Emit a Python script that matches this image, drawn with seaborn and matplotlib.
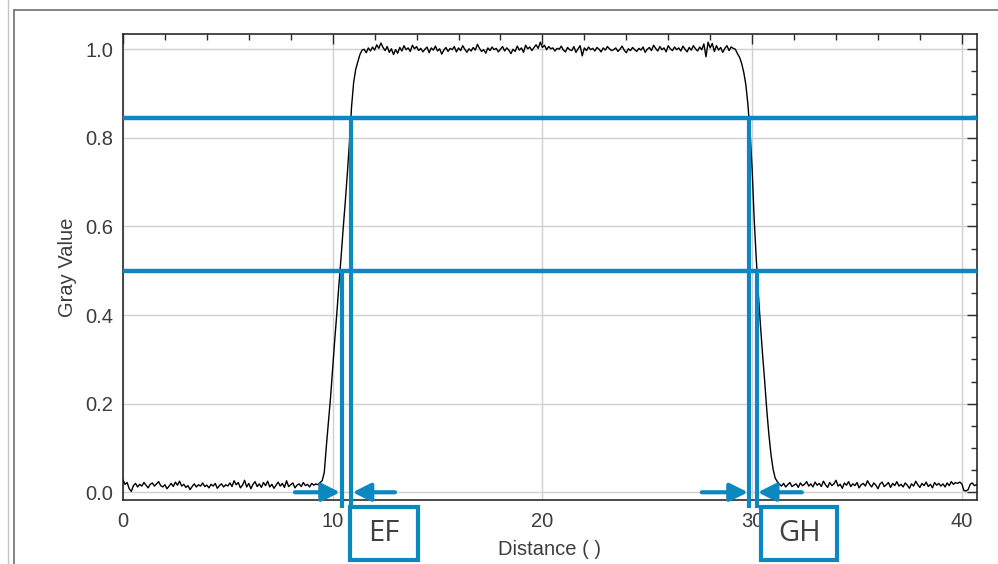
import matplotlib.pyplot as plt
import numpy as np
import pandas as pd
import seaborn as sns
from matplotlib.lines import Line2D
from matplotlib.patches import Rectangle
from matplotlib.ticker import MultipleLocator

# ──────────────────────────────────────────────
# Data (gray values in thousandths)
# ──────────────────────────────────────────────
STEP = 0.1  # sampling step of the profile

baseline_left = [
    28, 18, 22, 8, 2, 15, 20, 12, 18, 14,
    22, 16, 10, 18, 21, 14, 19, 24, 15, 12,
    17, 8, 14, 20, 13, 23, 16, 25, 14, 18,
    11, 15, 6, 13, 19, 12, 17, 14, 21, 13,
    16, 10, 18, 14, 20, 9, 15, 19, 12, 17,
    14, 21, 13, 26, 17, 22, 10, 16, 27, 12,
    20, 8, 18, 24, 13, 19, 11, 22, 15, 25,
    12, 18, 9, 16, 23, 14, 20, 11, 26, 13,
    17, 21, 10, 16, 19, 13, 22, 15, 18, 12,
    20, 16, 19, 17, 22,
]
edge_rise = [
    26, 45, 105, 160, 215, 280, 345, 405, 470, 530,
    595, 655, 720, 790, 870, 925, 955, 972, 988, 998,
]
plateau = [
    1000, 992, 1003, 996, 1005, 998, 1010, 1002, 1014, 1004,
    997, 1006, 993, 1001, 988, 999, 991, 1004, 996, 1008,
    999, 1003, 995, 1009, 1001, 1006, 997, 1002, 994, 1000,
    1005, 992, 1003, 998, 1007, 996, 1001, 989, 998, 1004,
    995, 1002, 999, 1006, 994, 1003, 997, 1008, 1000, 993,
    1001, 996, 1004, 998, 1011, 1002, 995, 999, 991, 1003,
    997, 1005, 999, 1002, 994, 1000, 1006, 996, 1003, 998,
    990, 1000, 995, 1007, 998, 1003, 993, 1009, 1001, 1005,
    997, 1004, 1010, 1002, 1016, 1004, 1009, 999, 1006, 1001,
    1003, 996, 1002, 1000, 1007, 998, 994, 1004, 999, 997,
    1006, 993, 1001, 1008, 985, 1003, 997, 1005, 999, 1002,
    996, 1004, 1000, 994, 1003, 998, 1006, 1001, 997, 999,
    1003, 995, 1000, 1007, 998, 992, 1001, 997, 1004, 999,
    995, 1002, 998, 1005, 993, 1000, 1004, 997, 1009, 1002,
    996, 1006, 999, 1003, 994, 1008, 1001, 997, 1005, 999,
    1003, 996, 1007, 1000, 994, 1004, 998, 1008, 1001, 996,
    1005, 999, 1012, 983, 1016, 1003, 1013, 995, 1008, 998,
    1004, 993, 1002, 1008, 997, 1005, 1002,
]
edge_fall = [
    1000, 990, 982, 968, 948, 920, 875, 815, 730, 615,
    525, 445, 375, 310, 250, 185, 130, 85, 52, 32, 24,
]
baseline_right = [
    18, 14, 20, 12, 17, 22, 13, 16, 19, 11,
    21, 15, 18, 24, 14, 19, 12, 23, 16, 20,
    13, 25, 17, 11, 22, 15, 19, 27, 14, 18,
    9, 21, 16, 24, 13, 19, 15, 22, 10, 17,
    20, 14, 26, 18, 12, 21, 16, 8, 19, 23,
    13, 17, 22, 11, 20, 15, 24, 14, 18, 12,
    21, 16, 9, 19, 14, 25, 17, 11, 20, 15,
    23, 13, 18, 10, 22, 16, 20, 14, 19, 12,
    21, 15, 24, 18, 22, 20, 23, 19, 4, 3,
    6, 18, 21, 15, 17,
]

# threshold levels and edge positions
levels = [0.845, 0.5]
ef_edges = [10.44, 10.87]   # crossing at 0.5 / at upper level
gh_edges = [29.87, 30.22]   # crossing at upper level / at 0.5
ef_arrows = [(8.2, 10.35), (12.97, 10.95)]
gh_arrows = [(27.6, 29.8), (32.37, 30.27)]
box_labels = ["EF", "GH"]
box_spans = [(10.83, 14.07), (30.43, 34.05)]

BLUE = "#0b88bf"
TEXTO = "#3c3c3c"

valores = np.concatenate(
    [baseline_left, edge_rise, plateau, edge_fall, baseline_right]
) / 1000.0
df = pd.DataFrame({
    "distance": np.round(np.arange(len(valores)) * STEP, 1),
    "gray": valores,
})

# ──────────────────────────────────────────────
# Figura
# ──────────────────────────────────────────────
sns.set_theme(style="white")
plt.rcParams["font.family"] = ["Liberation Sans", "DejaVu Sans"]

fig = plt.figure(figsize=(9.98, 5.64), dpi=100)
ax = fig.add_axes([0.1232, 0.1135, 0.8557, 0.8267])

sns.lineplot(data=df, x="distance", y="gray", ax=ax, color="black",
             lw=1.0, zorder=3)

ax.set_xlim(0, 40.72)
ax.set_ylim(-0.0174, 1.035)
ax.xaxis.set_major_locator(MultipleLocator(10))
ax.xaxis.set_minor_locator(MultipleLocator(2))
ax.yaxis.set_major_locator(MultipleLocator(0.2))
ax.yaxis.set_minor_locator(MultipleLocator(0.05))
ax.yaxis.set_major_formatter(plt.FormatStrFormatter("%.1f"))
ax.grid(True, which="major", color="#cfcfcf", lw=1.0, zorder=0)
ax.set_axisbelow(True)

ax.tick_params(which="both", direction="in", top=True, right=True,
               colors="#2b2b2b", labelcolor=TEXTO, labelsize=14.5)
ax.tick_params(which="major", length=7.2, width=1.0, pad=7)
ax.tick_params(axis="x", which="major", pad=9)
ax.tick_params(which="minor", length=4, width=1.0)
for sp in ax.spines.values():
    sp.set_color("#2b2b2b")
    sp.set_linewidth(1.2)

ax.set_xlabel("Distance ( )", fontsize=14.5, color=TEXTO, labelpad=6)
ax.set_ylabel("Gray Value", fontsize=14.5, color=TEXTO, labelpad=6)

# níveis horizontais
for nivel in levels:
    ax.axhline(nivel, color=BLUE, lw=3.2, zorder=4)

# bordas verticais
base = -0.035
ax.vlines(ef_edges[0], base, levels[1], color=BLUE, lw=3.0, zorder=4, clip_on=False)
ax.vlines(ef_edges[1], base, levels[0], color=BLUE, lw=3.0, zorder=4, clip_on=False)
ax.vlines(gh_edges[0], base, levels[0], color=BLUE, lw=3.0, zorder=4, clip_on=False)
ax.vlines(gh_edges[1], base, levels[1], color=BLUE, lw=3.0, zorder=4, clip_on=False)

# setas
for x0, x1 in ef_arrows + gh_arrows:
    ax.annotate("", xy=(x1, 0.0), xytext=(x0, 0.0),
                arrowprops=dict(arrowstyle="-|>", color=BLUE, lw=3,
                                mutation_scale=27, shrinkA=0, shrinkB=0),
                zorder=5)

# caixas com rótulos
for rotulo, (xa, xb) in zip(box_labels, box_spans):
    ax.add_patch(Rectangle((xa, -0.152), xb - xa, 0.119, fill=False,
                           ec=BLUE, lw=3, clip_on=False, zorder=5))
    ax.text((xa + xb) / 2, -0.094, rotulo, ha="center", va="center",
            fontsize=21, color="#404040", family=["Open Sans", "DejaVu Sans"],
            clip_on=False)

# moldura externa
fig.add_artist(Line2D([14 / 998, 14 / 998], [0, 1 - 9.5 / 564],
                      transform=fig.transFigure, color="#6e6e6e", lw=1.2))
fig.add_artist(Line2D([8 / 998, 8 / 998], [0, 1],
                      transform=fig.transFigure, color="#c4c4c4", lw=1.0))
fig.add_artist(Line2D([14 / 998, 1], [1 - 9.5 / 564, 1 - 9.5 / 564],
                      transform=fig.transFigure, color="#6e6e6e", lw=1.2))

fig.savefig("out.png", dpi=100)
